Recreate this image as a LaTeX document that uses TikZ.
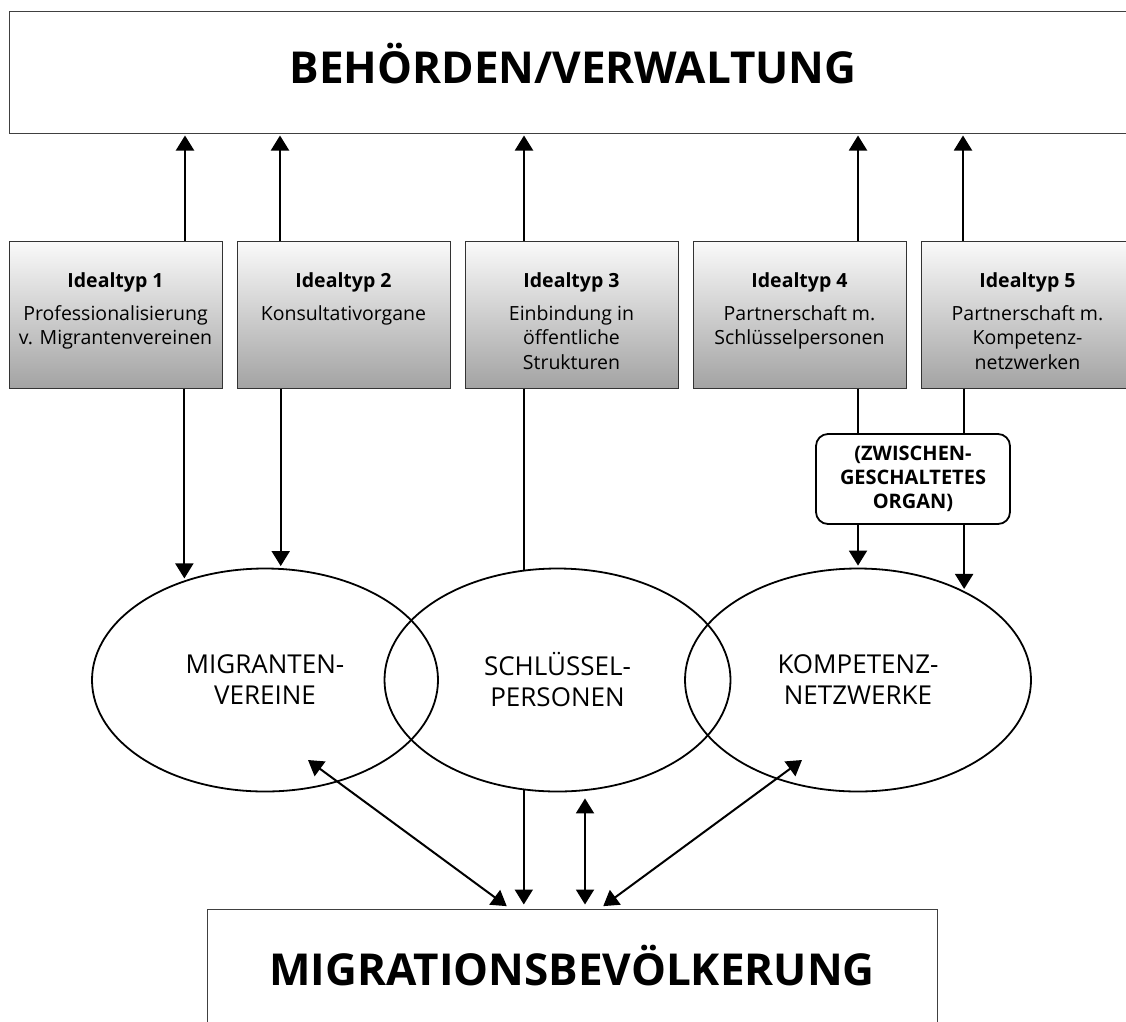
\documentclass[tikz,border=0pt]{standalone}
\usepackage{fontspec}
\setmainfont{Open Sans}
\usetikzlibrary{shapes.geometric, arrows.meta}

\tikzstyle{bigbox} = [rectangle, minimum width=1128pt, minimum height=122pt, draw=black!75, line width=1pt, text height=22pt, text depth=0pt, font=\fontsize{44}{50}\selectfont\bfseries]
\tikzstyle{typbox} = [rectangle, minimum width=213pt, minimum height=147pt, inner sep=0pt, draw=black!80, line width=1pt, top color=black!2, bottom color=black!36]
\tikzstyle{group} = [ellipse, minimum width=346pt, minimum height=223pt, inner sep=0pt, draw=black, line width=1.8pt, align=center, font=\fontsize{26}{31}\selectfont]
\tikzstyle{roundbox} = [rectangle, rounded corners=12pt, minimum width=194pt, minimum height=90pt, draw=black, line width=1.8pt, fill=white, align=center, font=\fontsize{20}{24}\selectfont\bfseries]
\tikzstyle{line} = [line width=2pt]
\tikzstyle{arrow} = [line width=2pt, -{Triangle[width=18pt,length=15pt]}, shorten >=2pt]
\tikzstyle{dblarrow} = [line width=2pt, {Triangle[width=18pt,length=15pt]}-{Triangle[width=18pt,length=15pt]}, shorten >=4pt]

\newcommand{\typtext}[2]{\parbox[c][147pt][t]{211pt}{\centering\fontsize{19.5}{24.5}\selectfont\vspace*{32pt}\textbf{#1}\\[8pt]#2}}

\begin{document}
\begin{tikzpicture}[x=1pt, y=1pt, node distance=228pt]
\useasboundingbox (0,0) rectangle (1126,-1021);
\clip (0,0) rectangle (1126,-1021);

\node (behoerden) [bigbox] at (573,-72) {BEHÖRDEN/VERWALTUNG};

\node (typ1) [typbox] at (115.5,-314.5) {\typtext{Idealtyp 1}{Professionalisierung\\v. Migrantenvereinen}};
\node (typ2) [typbox, right of=typ1] {\typtext{Idealtyp 2}{Konsultativorgane}};
\node (typ3) [typbox, right of=typ2] {\typtext{Idealtyp 3}{Einbindung in\\öffentliche\\Strukturen}};
\node (typ4) [typbox, right of=typ3] {\typtext{Idealtyp 4}{Partnerschaft m.\\Schlüsselpersonen}};
\node (typ5) [typbox, right of=typ4] {\typtext{Idealtyp 5}{Partnerschaft m.\\Kompetenz-\\netzwerken}};

\node (mig) [group] at (265,-680) {MIGRANTEN-\\VEREINE};
\node (key) [group] at (557.5,-680) {SCHLÜSSEL-\\PERSONEN};
\node (komp) [group] at (858,-680) {KOMPETENZ-\\NETZWERKE};

\node (bev) [bigbox, minimum width=730pt, minimum height=120pt, text height=32pt] at (572,-969) {MIGRATIONSBEVÖLKERUNG};

% up to the authorities
\foreach \n/\x in {1/185, 2/280, 3/524, 4/858, 5/963}
  \draw [arrow] (typ\n.north -| \x,0) -- (behoerden.south -| \x,0);

% down to the groups
\draw [arrow] (typ1.south -| mig.129) -- (mig.129);
\draw [arrow] (typ2.south -| mig.82) -- (mig.82);
\draw [line] (typ3.south -| key.107) -- (key.107);
\draw [arrow] (typ5.south -| komp.40) -- (komp.40);

\node (organ) [roundbox] at (913,-479) {(ZWISCHEN-\\GESCHALTETES\\ORGAN)};
\draw [line] (typ4.south -| komp.north) -- (organ.north -| komp.north);
\draw [arrow] (organ.south -| komp.north) -- (komp.north);

% down to the population
\coordinate (migtip) at (308,-760);
\coordinate (komptip) at (802,-760);
\draw [arrow, shorten >=4pt] (key.253) -- (key.253 |- bev.north);
\draw [dblarrow, shorten <=6pt] (key.south -| 585,0) -- (bev.north -| 585,0);
\draw [dblarrow] (migtip) -- (bev.north -| 510,0);
\draw [dblarrow] (komptip) -- (bev.north -| 600,0);
\end{tikzpicture}
\end{document}
